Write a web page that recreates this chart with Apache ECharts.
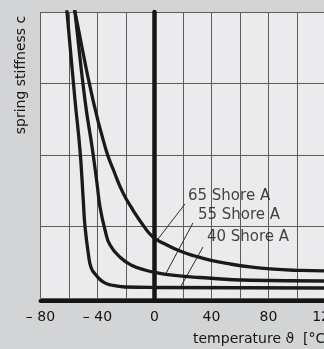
<!DOCTYPE html>
<html>
<head>
<meta charset="utf-8">
<script src="https://cdn.jsdelivr.net/npm/echarts@6/dist/echarts.min.js"></script>
<style>
html,body{margin:0;padding:0;background:#d3d4d6;}
#c{width:324px;height:349px;}
</style>
</head>
<body>
<div id="c"></div>
<script>
// temperature (°C) and relative spring stiffness
const shore40 = [[-62.3,4.196],[-61.4,4.0],[-55.8,2.77],[-52.3,2.07],[-50.0,1.371],[-48.8,1.007],[-46.3,0.601],[-44.4,0.42],[-41.1,0.322],[-36.1,0.224],[-30.5,0.182],[-20.7,0.154],[0.35,0.147],[119,0.14]];
const shore55 = [[-56.9,4.196],[-55.8,4.0],[-48.8,2.77],[-43.5,2.07],[-40.4,1.61],[-38.2,1.27],[-34.7,0.951],[-31.2,0.741],[-23.5,0.559],[-16.5,0.462],[-6.7,0.392],[0.35,0.357],[10.9,0.322],[31.9,0.287],[67,0.248],[119,0.238]];
const shore65 = [[-57.9,4.196],[-55.8,4.0],[-43.2,2.77],[-34.0,2.07],[-28.8,1.79],[-22.1,1.47],[-15.1,1.23],[-8.1,1.02],[-1.05,0.853],[7.37,0.755],[17.9,0.657],[28.4,0.587],[38.9,0.531],[53.0,0.476],[67.0,0.434],[81.1,0.406],[102.1,0.385],[119,0.378]];
const seriesNames = ['65 Shore A','55 Shore A','40 Shore A'];
const leader65 = [[21.4,1.315],[2.46,0.825]];
const leader55 = [[27.0,1.05],[7.4,0.32]];
const leader40 = [[34.0,0.713],[17.9,0.14]];
const xTicks = [-80,-40,0,40,80,120];

const FONT = 'DejaVu Sans';
const chart = echarts.init(document.getElementById('c'), null, {renderer:'canvas'});
const curveStyle = {color:'#1a1a1a', width:3.3};
const leaderStyle = {color:'#2a2a2a', width:1};
function curve(name, data){
  return {name, type:'line', data, showSymbol:false, smooth:0.5, clip:true, lineStyle:curveStyle, silent:true, z:5};
}
function leader(data){
  return {type:'line', data, showSymbol:false, lineStyle:leaderStyle, silent:true, z:4};
}
function tag(name, pos){
  return {type:'scatter', data:[pos], symbolSize:0, silent:true, z:6,
    label:{show:true, position:'right', distance:0, formatter:name, color:'#141414', fontFamily:FONT, fontSize:15}};
}
chart.setOption({
  backgroundColor:'#d3d4d6',
  animation:false,
  grid:{left:40.5, right:-1.5, top:12, bottom:51, show:true, backgroundColor:'#ebebed', borderWidth:0,
    outerBoundsMode:'none', containLabel:false},
  xAxis:{type:'value', min:-80, max:120, interval:20,
    offset:3,
    axisLine:{onZero:false, lineStyle:{color:'#151515', width:4}},
    axisTick:{show:false},
    splitLine:{show:true, lineStyle:{color:'#5c5c5c', width:1}},
    axisLabel:{margin:9, color:'#141414', fontFamily:FONT, fontSize:14, hideOverlap:false,
      formatter:v => xTicks.indexOf(v) < 0 ? '' : (v < 0 ? '– ' + (-v) : String(v))}
  },
  yAxis:{type:'value', min:0, max:4, interval:1,
    axisLine:{show:true, onZero:true, lineStyle:{color:'#151515', width:4.5}},
    axisTick:{show:false}, axisLabel:{show:false},
    splitLine:{show:true, lineStyle:{color:'#5c5c5c', width:1}}
  },
  graphic:[
    {type:'text', x:21, y:75, rotation:Math.PI/2, silent:true,
      style:{text:'spring stiffness c', fill:'#141414', font:'14px "DejaVu Sans"', textAlign:'center', textVerticalAlign:'middle'}},
    {type:'text', x:193, y:339, silent:true,
      style:{text:'temperature ϑ  [°C]', fill:'#141414', font:'14px "DejaVu Sans"', textAlign:'left', textVerticalAlign:'middle'}}
  ],
  series:[
    curve(seriesNames[0], shore65),
    curve(seriesNames[1], shore55),
    curve(seriesNames[2], shore40),
    leader(leader65), leader(leader55), leader(leader40),
    tag(seriesNames[0], [23.5,1.427]),
    tag(seriesNames[1], [30.5,1.16]),
    tag(seriesNames[2], [36.8,0.853])
  ]
});
</script>
</body>
</html>
